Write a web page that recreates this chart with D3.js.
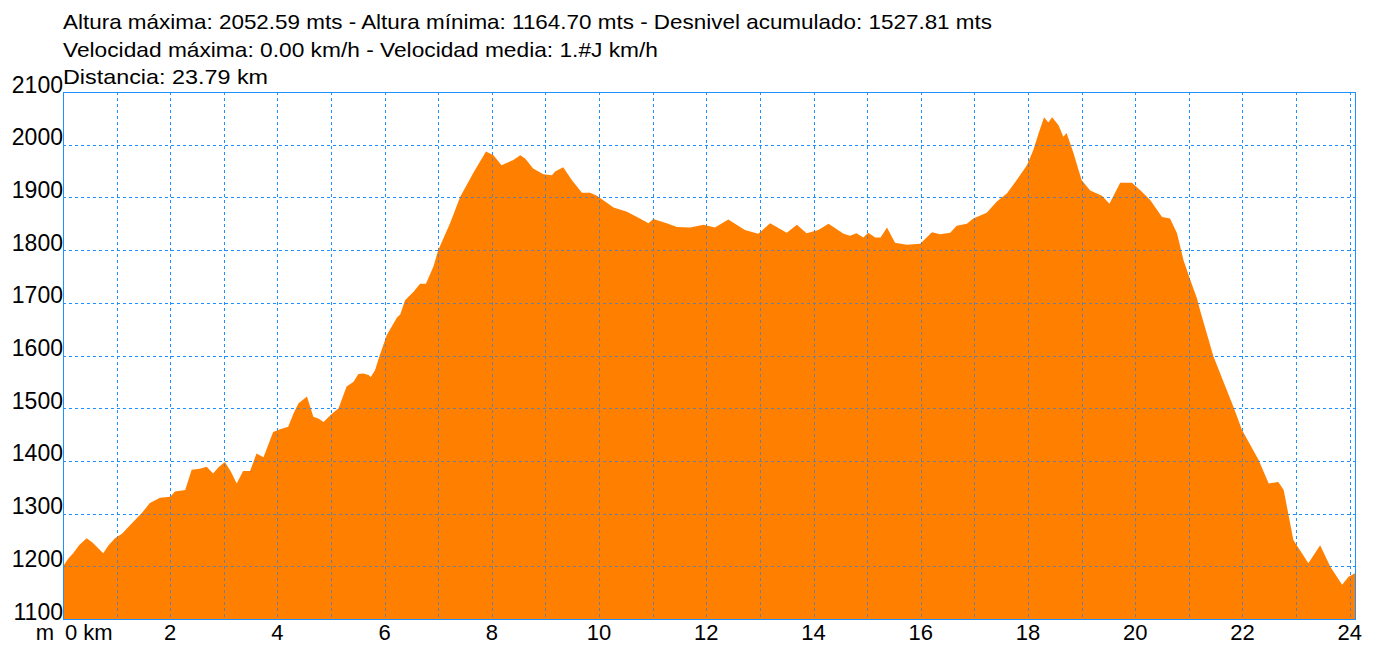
<!DOCTYPE html>
<html>
<head>
<meta charset="utf-8">
<script src="https://cdn.jsdelivr.net/npm/d3@7"></script>
<style>
body { margin: 0; background: #fff; }
text { font-family: "Liberation Sans", Arial, sans-serif; fill: #000; }
</style>
</head>
<body>
<svg id="chart" width="1380" height="645"></svg>
<script>
var headerLines = [
    "Altura máxima: 2052.59 mts - Altura mínima: 1164.70 mts - Desnivel acumulado: 1527.81 mts",
    "Velocidad máxima: 0.00 km/h - Velocidad media: 1.#J km/h",
    "Distancia: 23.79 km"
]
var headerWidths = [929, 595, 205]

var distKm = [0.00, 0.10, 0.19, 0.30, 0.44, 0.55, 0.75, 0.85, 0.97, 1.10, 1.25, 1.47, 1.62, 1.81, 2.00, 2.09, 2.28, 2.40, 2.55, 2.68,
    2.80, 2.90, 3.02, 3.13, 3.24, 3.36, 3.49, 3.61, 3.74, 3.92, 4.05, 4.20, 4.30, 4.39, 4.55, 4.67, 4.77, 4.86, 5.00, 5.14,
    5.29, 5.42, 5.51, 5.60, 5.70, 5.74, 5.82, 5.91, 6.04, 6.23, 6.29, 6.38, 6.54, 6.66, 6.77, 6.91, 7.00, 7.22, 7.41, 7.65,
    7.89, 8.03, 8.18, 8.40, 8.53, 8.62, 8.77, 8.96, 9.12, 9.18, 9.33, 9.49, 9.68, 9.83, 9.96, 10.27, 10.52, 10.76, 10.92, 11.01,
    11.26, 11.45, 11.70, 11.95, 12.16, 12.41, 12.72, 12.97, 13.19, 13.50, 13.69, 13.87, 14.09, 14.28, 14.56, 14.68, 14.80, 14.93, 15.02, 15.15,
    15.25, 15.37, 15.52, 15.74, 15.99, 16.21, 16.36, 16.55, 16.67, 16.86, 16.98, 17.23, 17.42, 17.61, 17.79, 17.98, 18.10, 18.20, 18.30, 18.38,
    18.45, 18.57, 18.66, 18.72, 18.85, 19.00, 19.16, 19.38, 19.52, 19.72, 19.94, 20.09, 20.28, 20.50, 20.65, 20.78, 20.90, 21.03, 21.15, 21.21,
    21.46, 21.83, 21.99, 22.30, 22.49, 22.67, 22.77, 22.95, 23.23, 23.45, 23.64, 23.86, 23.98, 24.10]

var elevM = [1200, 1215, 1225, 1240, 1253, 1245, 1225, 1240, 1253, 1262, 1278, 1301, 1320, 1330, 1332, 1342, 1345, 1383, 1385, 1389,
    1376, 1388, 1398, 1380, 1357, 1381, 1381, 1414, 1407, 1455, 1460, 1465, 1490, 1509, 1522, 1484, 1480, 1474, 1488, 1500,
    1541, 1550, 1565, 1566, 1563, 1559, 1572, 1601, 1639, 1672, 1678, 1705, 1721, 1736, 1736, 1769, 1800, 1851, 1901, 1946,
    1987, 1980, 1961, 1971, 1980, 1974, 1955, 1944, 1942, 1949, 1957, 1933, 1909, 1909, 1903, 1881, 1873, 1860, 1851, 1859,
    1851, 1844, 1843, 1848, 1843, 1858, 1838, 1831, 1851, 1833, 1848, 1832, 1838, 1850, 1831, 1827, 1832, 1824, 1833, 1824,
    1824, 1843, 1814, 1810, 1812, 1834, 1830, 1833, 1846, 1850, 1860, 1871, 1892, 1908, 1933, 1961, 1990, 2022, 2052, 2042,
    2052, 2037, 2015, 2022, 1984, 1933, 1913, 1903, 1888, 1928, 1928, 1914, 1895, 1863, 1860, 1832, 1781, 1743, 1709, 1686,
    1598, 1503, 1459, 1402, 1357, 1360, 1345, 1250, 1206, 1240, 1199, 1165, 1180, 1187]

var yTicks = [1100, 1200, 1300, 1400, 1500, 1600, 1700, 1800, 1900, 2000, 2100]
var xGridKm = d3.range(1, 25)
var xLabelKm = [2, 4, 6, 8, 10, 12, 14, 16, 18, 20, 22, 24]

var svg = d3.select("#chart")
var plotLeft = 63, plotRight = 1355, plotTop = 92, plotBottom = 619

var x = d3.scaleLinear().domain([0, 24.1]).range([plotLeft, plotRight])
var y = d3.scaleLinear().domain([1100, 2100]).range([plotBottom, plotTop])

var points = distKm.map(function(d, i) { return [d, elevM[i]] })

var area = d3.area()
    .x(function(d) { return x(d[0]) })
    .y0(plotBottom)
    .y1(function(d) { return y(d[1]) })

svg.append("defs").append("clipPath").attr("id", "fillclip")
    .append("path").attr("d", area(points))

function drawGrid(g, color) {
    g.selectAll("line.v")
        .data(xGridKm)
        .enter()
        .append("line")
        .attr("class", "v")
        .attr("x1", function(d) { return Math.round(x(d)) + 0.5 })
        .attr("x2", function(d) { return Math.round(x(d)) + 0.5 })
        .attr("y1", plotTop)
        .attr("y2", plotBottom)
    g.selectAll("line.h")
        .data(yTicks.slice(1, -1))
        .enter()
        .append("line")
        .attr("class", "h")
        .attr("x1", plotLeft)
        .attr("x2", plotRight)
        .attr("y1", function(d) { return Math.round(y(d)) + 0.5 })
        .attr("y2", function(d) { return Math.round(y(d)) + 0.5 })
    g.selectAll("line")
        .attr("stroke", color)
        .attr("stroke-width", 1)
        .attr("stroke-dasharray", "3,3")
}

drawGrid(svg.append("g"), "#1e90ff")

svg.append("path")
    .attr("d", area(points))
    .attr("fill", "#ff8000")

drawGrid(svg.append("g").attr("clip-path", "url(#fillclip)"), "#6f7f99")

svg.append("rect")
    .attr("x", plotLeft + 0.5)
    .attr("y", plotTop + 0.5)
    .attr("width", plotRight - plotLeft)
    .attr("height", plotBottom - plotTop)
    .attr("fill", "none")
    .attr("stroke", "#1e90ff")
    .attr("stroke-width", 1)

svg.selectAll("text.head")
    .data(headerLines)
    .enter()
    .append("text")
    .attr("class", "head")
    .attr("x", 63)
    .attr("y", function(d, i) { return 29 + i * 27.5 })
    .attr("textLength", function(d, i) { return headerWidths[i] })
    .attr("lengthAdjust", "spacingAndGlyphs")
    .style("font-size", "21px")
    .text(function(d) { return d })

svg.selectAll("text.ylab")
    .data(yTicks)
    .enter()
    .append("text")
    .attr("class", "ylab")
    .attr("x", plotLeft)
    .attr("y", function(d) { return y(d) + 0.5 })
    .attr("text-anchor", "end")
    .style("font-size", "23px")
    .text(function(d) { return d })

svg.selectAll("text.xlab")
    .data(xLabelKm)
    .enter()
    .append("text")
    .attr("class", "xlab")
    .attr("x", function(d) { return x(d) })
    .attr("y", 640)
    .attr("text-anchor", "middle")
    .style("font-size", "22px")
    .text(function(d) { return d })

svg.append("text")
    .attr("x", 54)
    .attr("y", 640)
    .attr("text-anchor", "end")
    .style("font-size", "22px")
    .text("m")

svg.append("text")
    .attr("x", 65)
    .attr("y", 640)
    .style("font-size", "22px")
    .text("0 km")
</script>
</body>
</html>
